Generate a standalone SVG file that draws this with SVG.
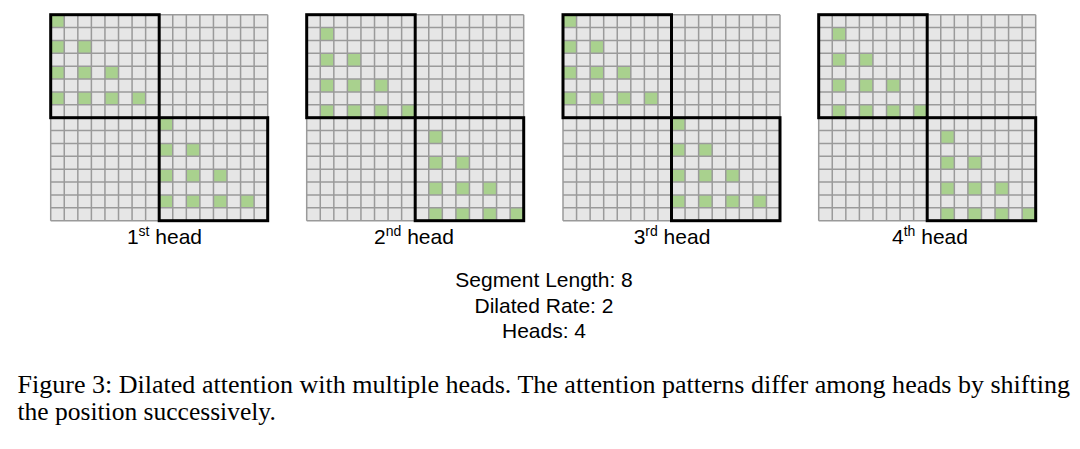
<svg xmlns="http://www.w3.org/2000/svg" xmlns:xlink="http://www.w3.org/1999/xlink" width="1080" height="449" viewBox="0 0 1080 449">
<style>
.bg{fill:#e6e6e6}
.ln{fill:none;stroke:#9a9a9a;stroke-width:1.5}
.g{fill:#a9d18e}
.bx{fill:none;stroke:#000;stroke-width:3}
.lbl{font-family:"Liberation Sans",Arial,sans-serif;font-size:21px;fill:#000;text-anchor:middle}
.cap{font-family:"Liberation Serif","Times New Roman",serif;font-size:25.5px;fill:#000}
</style>
<defs>
<path id="lines" class="ln" d="M0,0V206M13.5625,0V206M27.125,0V206M40.6875,0V206M54.25,0V206M67.8125,0V206M81.375,0V206M94.9375,0V206M108.5,0V206M122.0625,0V206M135.625,0V206M149.1875,0V206M162.75,0V206M176.3125,0V206M189.875,0V206M203.4375,0V206M217,0V206M0,0H217M0,12.875H217M0,25.75H217M0,38.625H217M0,51.5H217M0,64.375H217M0,77.25H217M0,90.125H217M0,103H217M0,115.875H217M0,128.75H217M0,141.625H217M0,154.5H217M0,167.375H217M0,180.25H217M0,193.125H217M0,206H217"/>
<g id="patA" class="g">
<rect x="0" y="0" width="13.5625" height="12.875"/>
<rect x="0" y="25.75" width="13.5625" height="12.875"/>
<rect x="27.125" y="25.75" width="13.5625" height="12.875"/>
<rect x="0" y="51.5" width="13.5625" height="12.875"/>
<rect x="27.125" y="51.5" width="13.5625" height="12.875"/>
<rect x="54.25" y="51.5" width="13.5625" height="12.875"/>
<rect x="0" y="77.25" width="13.5625" height="12.875"/>
<rect x="27.125" y="77.25" width="13.5625" height="12.875"/>
<rect x="54.25" y="77.25" width="13.5625" height="12.875"/>
<rect x="81.375" y="77.25" width="13.5625" height="12.875"/>
</g>
<g id="patB" class="g">
<rect x="13.5625" y="12.875" width="13.5625" height="12.875"/>
<rect x="13.5625" y="38.625" width="13.5625" height="12.875"/>
<rect x="40.6875" y="38.625" width="13.5625" height="12.875"/>
<rect x="13.5625" y="64.375" width="13.5625" height="12.875"/>
<rect x="40.6875" y="64.375" width="13.5625" height="12.875"/>
<rect x="67.8125" y="64.375" width="13.5625" height="12.875"/>
<rect x="13.5625" y="90.125" width="13.5625" height="12.875"/>
<rect x="40.6875" y="90.125" width="13.5625" height="12.875"/>
<rect x="67.8125" y="90.125" width="13.5625" height="12.875"/>
<rect x="94.9375" y="90.125" width="13.5625" height="12.875"/>
</g>
<g id="panelA">
<rect class="bg" x="0" y="0" width="217" height="206"/>
<use xlink:href="#patA"/>
<use xlink:href="#patA" x="108.5" y="103"/>
<use xlink:href="#lines"/>
<rect class="bx" x="0" y="0" width="108.5" height="103"/>
<rect class="bx" x="108.5" y="103" width="108.5" height="103"/>
</g>
<g id="panelB">
<rect class="bg" x="0" y="0" width="217" height="206"/>
<use xlink:href="#patB"/>
<use xlink:href="#patB" x="108.5" y="103"/>
<use xlink:href="#lines"/>
<rect class="bx" x="0" y="0" width="108.5" height="103"/>
<rect class="bx" x="108.5" y="103" width="108.5" height="103"/>
</g>
</defs>
<g id="head1">
<use xlink:href="#panelA" x="50.7" y="14.7"/>
<text class="lbl" x="164.5" y="243.5">1<tspan font-size="14" dy="-7.5">st</tspan><tspan dy="7.5"> head</tspan></text>
</g>
<g id="head2">
<use xlink:href="#panelB" x="306.7" y="14.7"/>
<text class="lbl" x="414" y="243.5">2<tspan font-size="14" dy="-7.5">nd</tspan><tspan dy="7.5"> head</tspan></text>
</g>
<g id="head3">
<use xlink:href="#panelA" x="563" y="14.7"/>
<text class="lbl" x="672" y="243.5">3<tspan font-size="14" dy="-7.5">rd</tspan><tspan dy="7.5"> head</tspan></text>
</g>
<g id="head4">
<use xlink:href="#panelB" x="818.7" y="14.7"/>
<text class="lbl" x="930" y="243.5">4<tspan font-size="14" dy="-7.5">th</tspan><tspan dy="7.5"> head</tspan></text>
</g>
<g id="params">
<text class="lbl" x="544" y="287">Segment Length: 8</text>
<text class="lbl" x="544" y="312.5">Dilated Rate: 2</text>
<text class="lbl" x="544" y="338">Heads: 4</text>
</g>
<g id="caption">
<text class="cap" x="17.5" y="393" textLength="1052.5" lengthAdjust="spacingAndGlyphs">Figure 3: Dilated attention with multiple heads. The attention patterns differ among heads by shifting</text>
<text class="cap" x="17.5" y="420">the position successively.</text>
</g>
</svg>
